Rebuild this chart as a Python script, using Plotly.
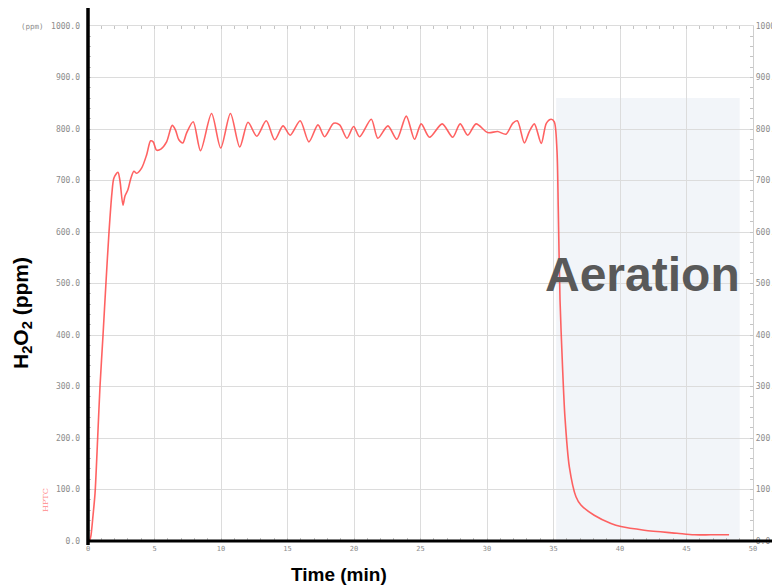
import plotly.graph_objects as go

# ---------------- data ----------------
time_min = [0.0, 0.15, 0.23, 0.38, 0.53, 0.73, 0.90, 1.13, 1.35, 1.58, 1.80, 1.95, 2.25, 2.40,
            2.63, 2.78, 3.00, 3.23, 3.45, 3.66, 4.03, 4.41, 4.71, 4.90, 5.16, 5.48, 5.91, 6.33,
            6.58, 6.83, 7.13, 7.41, 7.91, 8.46, 9.29, 9.98, 10.71, 11.41, 12.03, 12.69, 13.40,
            14.04, 14.66, 15.20, 15.95, 16.61, 17.29, 17.79, 18.47, 18.92, 19.47, 19.97, 20.42,
            21.30, 21.79, 22.55, 23.22, 23.93, 24.55, 25.05, 25.68, 26.63, 27.42, 27.98, 28.55,
            29.18, 30.05, 30.80, 31.43, 31.93, 32.28, 32.81, 33.18, 33.56, 34.08, 34.46, 34.83,
            35.06, 35.26, 35.36, 35.49, 35.68, 35.86, 36.19, 36.69, 37.06, 38.06, 39.32, 40.07,
            41.82, 44.29, 45.57, 46.82, 48.20]
h2o2_ppm = [0, 3, 12, 50, 93, 202, 299, 400, 501, 600, 676, 705, 716, 700,
            652, 670, 682, 705, 718, 714, 724, 750, 777, 775, 759, 761, 775, 807,
            798, 779, 773, 792, 814, 758, 830, 763, 830, 765, 813, 786, 816,
            779, 806, 788, 816, 775, 808, 785, 811, 808, 782, 805, 785,
            819, 782, 806, 780, 825, 780, 810, 784, 810, 784, 810, 788,
            810, 793, 795, 790, 811, 816, 773, 795, 810, 772, 811, 819,
            814, 759, 643, 468, 338, 241, 144, 86, 70, 50, 34, 28,
            21, 15, 12, 12, 12]

x_ticks = list(range(0, 51, 5))
y_ticks = list(range(0, 1001, 100))
y_tick_labels = [f"{v:.1f}" for v in y_ticks]
aeration_start, aeration_end, aeration_top = 35.2, 49.0, 860

# ---------------- figure ----------------
# the page body adds an 8px offset; plot area spans window px x 88..753, y 26..541
OFF = 8
W, H = 772, 578
ML, MR, MT, MB = 80, 27, 18, 45
LEFT, RIGHT, TOP, BOTTOM = OFF + ML, OFF + W - MR, OFF + MT, OFF + H - MB
PW, PH = RIGHT - LEFT, BOTTOM - TOP

def px_x(p):
    return (p - LEFT) / PW

def px_y(p):
    return (BOTTOM - p) / PH

mono = "DejaVu Sans Mono"
grey = "#8c8c8c"
grid = "#dcdcdc"

fig = go.Figure()
fig.add_trace(go.Scatter(
    x=time_min, y=h2o2_ppm, mode="lines",
    line=dict(color="rgba(255,70,70,0.85)", width=1.6, shape="spline", smoothing=0.8),
    hoverinfo="skip", showlegend=False))
fig.add_trace(go.Scatter(
    x=time_min, y=h2o2_ppm, mode="lines", yaxis="y2",
    line=dict(color="rgba(0,0,0,0)", width=0.1),
    hoverinfo="skip", showlegend=False))

fig.update_layout(
    width=W, height=H,
    margin=dict(l=ML, r=MR, t=MT, b=MB, pad=0),
    paper_bgcolor="white", plot_bgcolor="white",
    xaxis=dict(
        range=[0, 50], tickvals=x_ticks, showgrid=True, gridcolor=grid, gridwidth=1.3,
        zeroline=False, showline=True, linecolor=grid, linewidth=1.3, mirror="ticks",
        ticks="inside", ticklen=3, tickcolor="#c4c4c4", automargin=False,
        minor=dict(dtick=1, ticks="inside", ticklen=3, tickcolor="#c4c4c4", showgrid=False),
        tickfont=dict(family=mono, size=7, color=grey),
    ),
    yaxis=dict(
        range=[0, 1000], tickvals=y_ticks, ticktext=y_tick_labels, automargin=False,
        showgrid=True, gridcolor=grid, gridwidth=1.3, zeroline=False, showline=False,
        ticks="inside", ticklen=3, tickcolor="#c4c4c4",
        minor=dict(dtick=20, ticks="inside", ticklen=3, tickcolor="#c4c4c4", showgrid=False),
        tickfont=dict(family=mono, size=8, color=grey), ticklabelstandoff=7,
    ),
    yaxis2=dict(
        range=[0, 1000], tickvals=y_ticks, ticktext=y_tick_labels, overlaying="y", side="right",
        showgrid=False, zeroline=False, showline=True, linecolor="#cfcfcf", linewidth=1.3,
        ticks="inside", ticklen=3, tickcolor="#c4c4c4", automargin=False,
        minor=dict(dtick=20, ticks="inside", ticklen=3, tickcolor="#c4c4c4", showgrid=False),
        tickfont=dict(family=mono, size=8, color=grey),
    ),
    shapes=[
        dict(type="rect", xref="x", yref="y", x0=aeration_start, x1=aeration_end,
             y0=0, y1=aeration_top, fillcolor="#f2f5f9", line=dict(width=0), layer="below"),
        dict(type="line", xref="paper", yref="paper", x0=0, x1=0, y0=px_y(545), y1=px_y(8),
             line=dict(color="black", width=3.5)),
        dict(type="line", xref="paper", yref="paper", x0=0, x1=px_x(780), y0=0, y1=0,
             line=dict(color="black", width=3.2)),
    ],
    annotations=[
        dict(text="Aeration", xref="x", yref="paper", x=41.7, y=px_y(274),
             xanchor="center", yanchor="middle", showarrow=False,
             font=dict(family="Liberation Sans", size=48, color="#595959", weight="bold")),
        dict(text="H<sub>2</sub>O<sub>2</sub> (ppm)", xref="paper", yref="paper",
             x=px_x(22), y=px_y(313), textangle=-90, xanchor="center", yanchor="middle",
             showarrow=False,
             font=dict(family="Liberation Sans", size=21, color="black", weight="bold")),
        dict(text="Time (min)", xref="x", yref="paper", x=18.9, y=px_y(574),
             xanchor="center", yanchor="middle", showarrow=False,
             font=dict(family="Liberation Sans", size=19, color="black", weight="bold")),
        dict(text="(ppm)", xref="paper", yref="paper", x=px_x(32), y=px_y(26),
             xanchor="center", yanchor="middle", showarrow=False,
             font=dict(family=mono, size=7.5, color=grey)),
        dict(text="HPTC", xref="paper", yref="paper", x=px_x(45), y=px_y(500),
             textangle=-90, xanchor="center", yanchor="middle", showarrow=False,
             font=dict(family="DejaVu Serif", size=8, color="#ff8a8a")),
    ],
)

fig.write_html("out.html")
